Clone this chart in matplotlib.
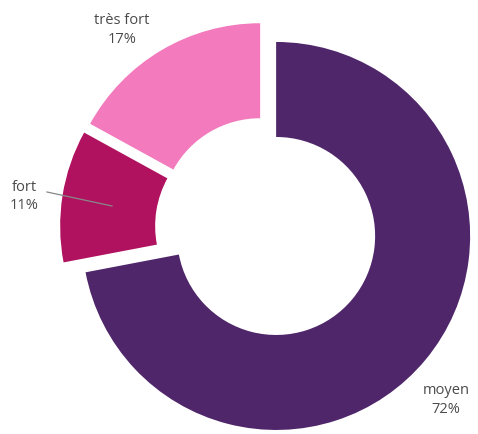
import matplotlib.pyplot as plt

labels = ['moyen', 'fort', 'très fort']
shares = [72, 11, 17]
colors = ['#4f266a', '#b0125f', '#f27abd']

plt.rcParams['font.family'] = ['Open Sans', 'DejaVu Sans']

fig = plt.figure(figsize=(4.78, 4.35), dpi=100)
ax = fig.add_axes([0, 0, 1, 1])

# axes in pixel units so the ring sits where it does in the original
ax.pie(shares, colors=colors, startangle=90, counterclock=False,
       center=(266.5, 206), radius=194, explode=[12.5] * 3,
       wedgeprops=dict(width=95, linewidth=0))
ax.set_xlim(0, 478)
ax.set_ylim(0, 435)
ax.set_aspect('equal')
ax.axis('off')

txt = dict(ha='center', va='center', fontsize=10.5, color='#4a4a4a', linespacing=1.3)
ax.text(122, 405, f'{labels[2]}\n{shares[2]}%', **txt)
ax.text(24, 238.5, f'{labels[1]}\n{shares[1]}%', **txt)
ax.text(446, 35, f'{labels[0]}\n{shares[0]}%', **txt)
ax.plot([47, 112], [242, 228], color='#888888', lw=0.9)

fig.savefig('out.png', dpi=100)
